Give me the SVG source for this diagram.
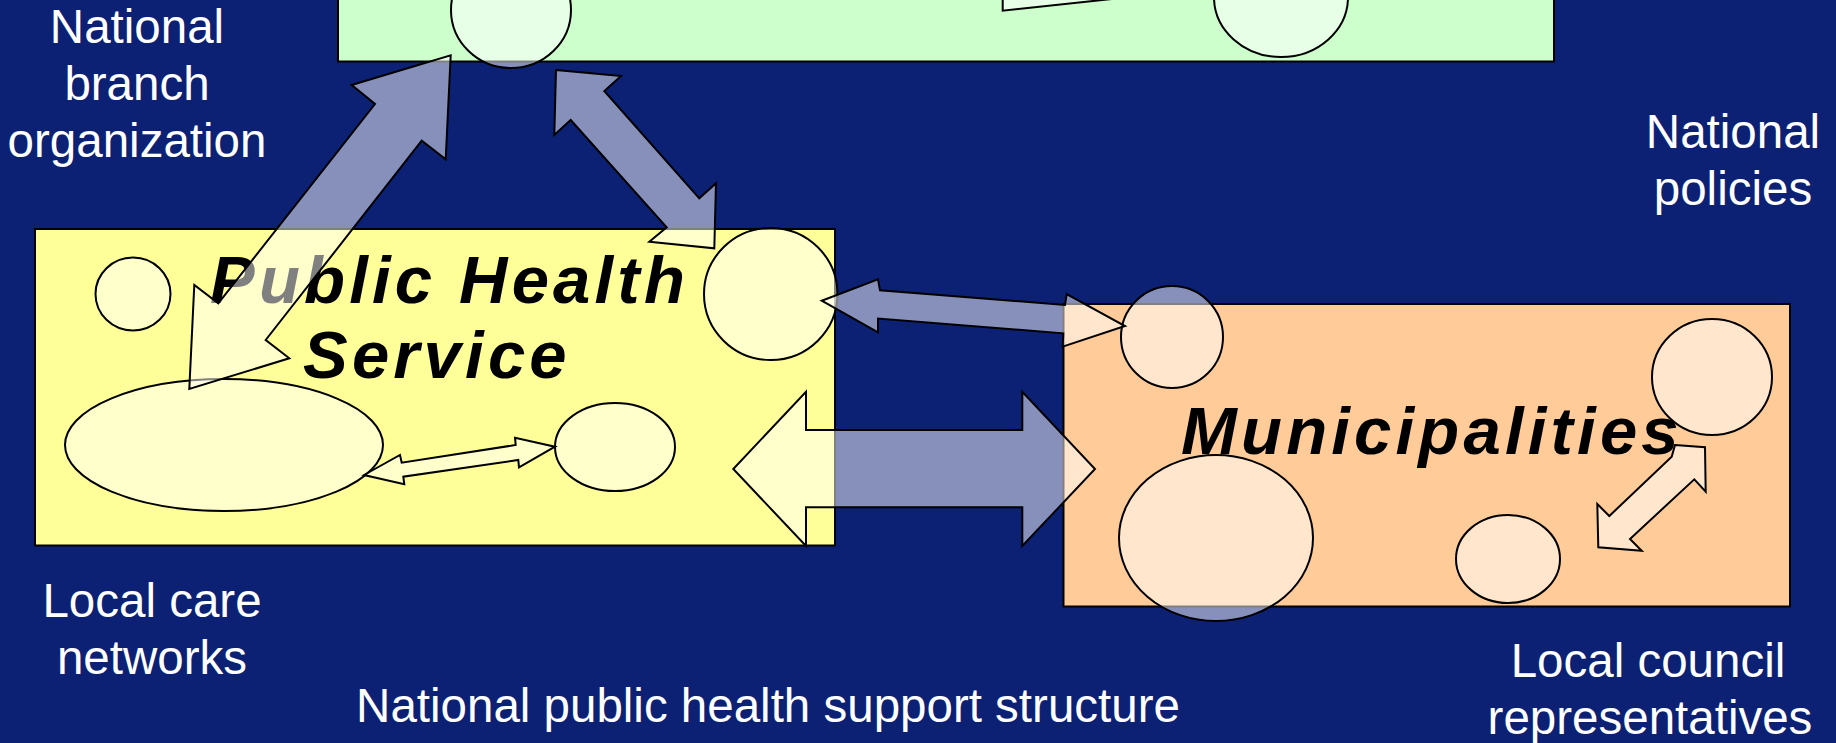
<svg xmlns="http://www.w3.org/2000/svg" width="1836" height="743" viewBox="0 0 1836 743">
<style>
.box{stroke:#000;stroke-width:2}
.blob{fill:#fff;fill-opacity:0.5;stroke:#000;stroke-width:2}
.arrow{fill:#fff;fill-opacity:0.5;stroke:#000;stroke-width:2;stroke-linejoin:miter}
.lbl{font-family:"Liberation Sans",Arial,sans-serif;font-size:47.5px;fill:#fff;text-anchor:middle}
.title{font-family:"Liberation Sans",Arial,sans-serif;font-size:67px;font-weight:bold;font-style:italic;fill:#000;letter-spacing:4.2px}
</style>
<rect x="0" y="0" width="1836" height="743" fill="#0C2174"/>

<g id="national-box">
<rect class="box" x="338" y="-10" width="1216" height="71.5" fill="#CCFFCC"/>
</g>
<g id="public-health-box">
<rect class="box" x="35" y="229" width="800" height="316.5" fill="#FFFF99"/>
</g>
<g id="municipalities-box">
<rect class="box" x="1063.5" y="304" width="726.5" height="302.5" fill="#FFCC99"/>
</g>

<g id="national-circle-1"><ellipse class="blob" cx="511" cy="10" rx="60" ry="58"/></g>
<g id="national-circle-2"><ellipse class="blob" cx="1281" cy="-3" rx="67" ry="60"/></g>
<g id="phs-circle-small"><ellipse class="blob" cx="133" cy="294" rx="37.5" ry="36.5"/></g>
<g id="phs-circle-right"><ellipse class="blob" cx="770.7" cy="294" rx="66.7" ry="66"/></g>
<g id="phs-ellipse-big"><ellipse class="blob" cx="224" cy="445" rx="159" ry="66"/></g>
<g id="phs-ellipse-small"><ellipse class="blob" cx="615" cy="447" rx="60" ry="44"/></g>
<g id="mun-circle-topleft"><ellipse class="blob" cx="1172" cy="337" rx="51" ry="51"/></g>
<g id="mun-circle-topright"><ellipse class="blob" cx="1712" cy="377" rx="60" ry="58"/></g>
<g id="mun-circle-big"><ellipse class="blob" cx="1216" cy="538" rx="97" ry="83"/></g>
<g id="mun-circle-small"><ellipse class="blob" cx="1508" cy="559" rx="52" ry="44"/></g>

<g id="titles">
<text class="title" x="210" y="303">Public Health</text>
<text class="title" x="303" y="378">Service</text>
<text class="title" x="1181" y="454">Municipalities</text>
</g>

<g id="labels">
<text class="lbl" x="137" y="43">National</text>
<text class="lbl" x="137" y="100">branch</text>
<text class="lbl" x="137" y="157">organization</text>
<text class="lbl" x="1733" y="148">National</text>
<text class="lbl" x="1733" y="205">policies</text>
<text class="lbl" x="152" y="617">Local care</text>
<text class="lbl" x="152" y="674">networks</text>
<text class="lbl" x="768" y="722">National public health support structure</text>
<text class="lbl" x="1648" y="677">Local council</text>
<text class="lbl" x="1650" y="734">representatives</text>
</g>

<g id="connectors">
<polygon class="arrow" points="1002.7,-5 1002.7,10.7 1149,-5"/>
<polygon class="arrow" points="450.7,55.3 445.7,159.3 421.7,140.7 265.7,340 289.3,358.3 189.3,389 194.3,285 218.3,303.3 375,104 351.7,85"/>
<polygon class="arrow" points="556,70 621,76 604.3,91 699.3,198.3 716,183.3 714.3,248.3 649.3,241.7 666.7,227.3 570.7,120 554.3,135"/>
<polygon class="arrow" points="821.7,300.7 878,279.3 880,290.3 1065,305 1066.7,294 1125,326 1062.7,346.7 1063.3,333.3 878,318.5 878,332.3"/>
<polygon class="arrow" points="733.3,469 806,391.7 806,430 1022.3,430 1022.3,391.7 1095,469 1022.3,546 1022.3,507.3 806,507.3 806,546"/>
<polygon class="arrow" points="364,475 400,455 401.7,462.7 515.7,445 515,437.7 555,446.7 519,467.3 518.3,460 403.3,476.7 404.3,484.3"/>
<polygon class="arrow" points="1675,445 1705,447.3 1705.7,491.7 1694.3,479.3 1630,539 1641.7,550.7 1598.3,547.3 1597.3,504 1609.3,516 1671.7,456.7"/>
</g>
</svg>
